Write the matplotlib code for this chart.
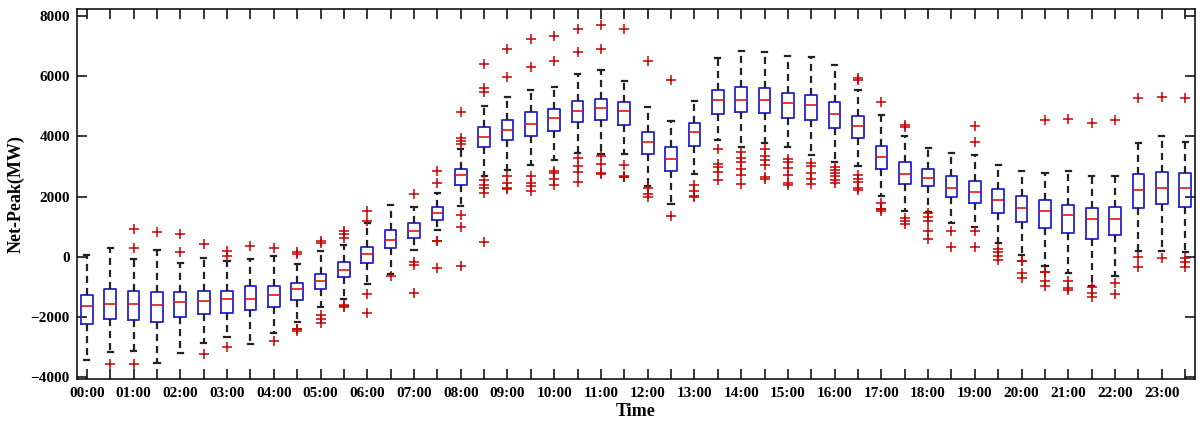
import matplotlib.pyplot as plt

# half-hour slots, label on the full hours only
labels = [f"{h:02d}:00" if i % 2 == 0 else "" for i in range(48) for h in [i // 2]]

whisker_hi = [55, 300, -89, 211, -211, -33, -144, -67,
              33, -233, 178, 389, 1111, 1733, 1644, 2100,
              3589, 5000, 5311, 5556, 5633, 6078, 6189, 5833,
              4978, 4511, 5167, 6611, 6822, 6811, 6678, 6622,
              6367, 5533, 4711, 4000, 3611, 3444, 3367, 3056,
              2844, 2767, 2844, 2667, 2667, 3778, 4000, 3822]
q3 = [-1278, -1089, -1156, -1167, -1178, -1133, -1133, -989,
      -989, -878, -589, -189, 333, 878, 1133, 1644,
      2900, 4300, 4556, 4811, 4911, 5167, 5244, 5156,
      4133, 3633, 4444, 5533, 5633, 5600, 5444, 5378,
      5156, 4689, 3689, 3156, 2911, 2667, 2500, 2256,
      2011, 1889, 1722, 1633, 1667, 2733, 2800, 2767]
median = [-1656, -1578, -1567, -1600, -1500, -1467, -1411, -1422,
          -1267, -1089, -800, -444, 89, 556, 867, 1467,
          2700, 3967, 4200, 4422, 4600, 4856, 4956, 4856,
          3800, 3244, 4133, 5200, 5222, 5222, 5122, 5044,
          4744, 4344, 3311, 2744, 2611, 2289, 2144, 1900,
          1633, 1511, 1400, 1244, 1267, 2200, 2289, 2267]
q1 = [-2222, -2078, -2100, -2178, -2000, -1911, -1867, -1778,
      -1667, -1444, -1089, -689, -211, 289, 633, 1233,
      2389, 3633, 3867, 4022, 4189, 4467, 4533, 4367,
      3422, 2844, 3689, 4756, 4811, 4778, 4600, 4533,
      4267, 3933, 2911, 2411, 2333, 1978, 1778, 1467,
      1167, 956, 800, 600, 733, 1633, 1756, 1667]
whisker_lo = [-3422, -3167, -3122, -3522, -3189, -2878, -2667, -2900,
              -2533, -2167, -1667, -1411, -911, -578, 222, 889,
              1678, 2667, 2867, 3056, 3200, 3433, 3422, 3400,
              2344, 1756, 2733, 3889, 3656, 3778, 3633, 3367,
              3133, 3011, 2011, 1511, 1489, 1111, 1000, 456,
              56, -311, -556, -967, -633, 189, 189, 144]
outliers = [
    [], [-3556], [911, 289, -3556], [811], [767, 144], [411, -3222], [178, 22, -2989], [367],
    [300, -2800], [156, 100, -2389, -2420, -2467], [533, 456, -1933, -2056, -2200],
    [867, 756, 622, -1622, -1640, -1667], [1511, 1189, -1244, -1867], [-644],
    [2089, -189, -278, -1211], [2844, 2456, 533, 510, -389],
    [4811, 3956, 3844, 3733, 1400, 978, -300], [6389, 5622, 5467, 2533, 2389, 2267, 2122, 478],
    [6911, 5967, 2678, 2456, 2267, 2240], [7233, 6300, 2678, 2456, 2344, 2189],
    [7333, 6489, 2833, 2778, 2567, 2389], [7578, 6800, 3289, 3000, 2800, 2478],
    [7689, 6911, 3344, 3067, 2789, 2756], [7578, 3044, 2689, 2660, 2644],
    [6500, 2289, 2089, 2000], [5856, 1344], [2367, 2189, 2010, 1978],
    [3578, 3089, 2978, 2811, 2533], [3478, 3278, 3144, 2900, 2700, 2422],
    [3578, 3333, 3222, 3056, 2644, 2589], [3233, 3133, 2944, 2700, 2444, 2389],
    [3111, 3000, 2789, 2589, 2422],
    [2978, 2867, 2778, 2667, 2533, 2444], [5950, 5870, 2700, 2589, 2478, 2278, 2200],
    [5144, 1778, 1600, 1589, 1511], [4389, 4311, 1289, 1200, 1089],
    [1456, 1311, 1200, 867, 578], [867, 333], [4344, 3822, 867, 333],
    [256, 144, 33, -100],
    [-133, -150, -556, -711], [4556, -500, -520, -800, -989], [4567, -800, -1044, -1111],
    [4444, -1000, -1200, -1333], [4556, -878, -1244], [5278, -22, -356],
    [5311, -44], [5278, -56, -189, -356],
]

stats = []
for i in range(48):
    stats.append(dict(med=median[i], q1=q1[i], q3=q3[i], whislo=whisker_lo[i],
                      whishi=whisker_hi[i], fliers=outliers[i]))

plt.rcParams['font.family'] = ['Liberation Serif', 'DejaVu Serif']
plt.rcParams['font.weight'] = 'bold'

fig = plt.figure(figsize=(12, 4.28), dpi=100)
ax = fig.add_axes([0.064, 0.1145, 0.932, 0.8645])

pos = list(range(1, 49))
ax.bxp(stats, positions=pos, widths=0.5, capwidths=0.22, showfliers=True,
       boxprops=dict(color='#2323d6', linewidth=1.3),
       medianprops=dict(color='#e01515', linewidth=1.2),
       whiskerprops=dict(color='#222222', linewidth=1.6, linestyle=(0, (3.2, 2.2))),
       capprops=dict(color='#222222', linewidth=1.6),
       flierprops=dict(marker='+', markeredgecolor='#c80000', markersize=7,
                       markeredgewidth=1.1, linestyle='none'))

ax.set_xlim(0.57, 48.43)
ax.set_ylim(-4066, 8233)
ax.set_xticks(pos)
ax.set_xticklabels(labels)
ax.set_yticks([-4000, -2000, 0, 2000, 4000, 6000, 8000])
ax.tick_params(direction='in', top=True, right=True, length=7, width=1.1,
               labelsize=11, pad=6)
ax.tick_params(axis='y', pad=5)
for s in ax.spines.values():
    s.set_linewidth(1.1)
ax.set_xlabel('Time', fontsize=13, fontweight='bold', labelpad=2)
ax.set_ylabel('Net-Peak(MW)', fontsize=13, fontweight='bold', labelpad=4)

plt.savefig('out.png', dpi=100)
